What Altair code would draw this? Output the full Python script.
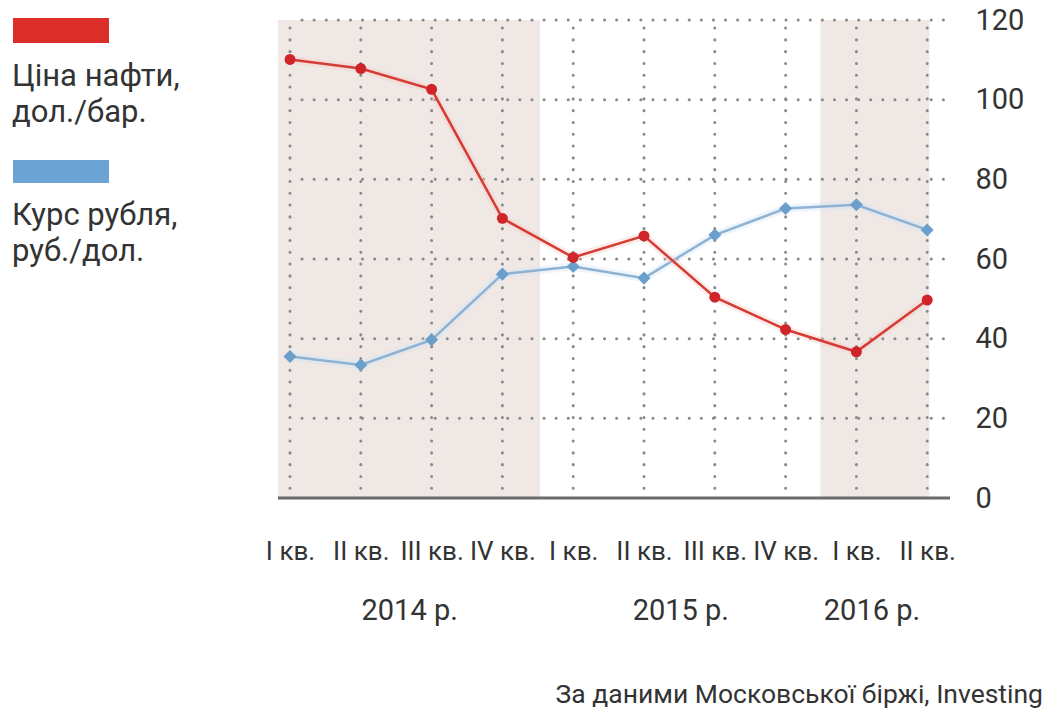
import altair as alt
import pandas as pd

quarters = ["I кв.", "II кв.", "III кв.", "IV кв.", "I кв.", "II кв.", "III кв.", "IV кв.", "I кв.", "II кв."]
oil = [110.1, 107.8, 102.6, 70.2, 60.4, 65.8, 50.4, 42.3, 36.7, 49.7]
rub = [35.5, 33.4, 39.7, 56.2, 58.1, 55.2, 66.0, 72.7, 73.6, 67.3]
y_ticks = [0, 20, 40, 60, 80, 100, 120]
years = ["2014 р.", "2015 р.", "2016 р."]
year_pos = [1.69, 5.52, 8.22]
band_start = [-0.17, 7.49]
band_end = [3.53, 9.03]
oil_label = ["Ціна нафти,", "дол./бар."]
rub_label = ["Курс рубля,", "руб./дол."]
source_text = "За даними Московської біржі, Investing"

idx = list(range(len(quarters)))
df = pd.DataFrame({"i": idx, "q": quarters, "oil": oil, "rub": rub})
bands = pd.DataFrame({"s": band_start, "e": band_end})
ygrid = pd.DataFrame({"v": y_ticks[1:]})
xgrid = pd.DataFrame({"i": idx})
yrs = pd.DataFrame({"t": years, "p": year_pos})
one = pd.DataFrame({"a": [0]})

RED_LINE = "#d63b33"
RED_PT = "#cf2529"
BLUE_LINE = "#8db2d3"
BLUE_PT = "#6a9fcc"
BAND = "#efe8e5"
GRID = "#8a8a8a"
TXT = "#333333"
FONT = "Roboto"

xscale = alt.Scale(domain=[-0.1695, 9.322], nice=False, zero=False)
yscale = alt.Scale(domain=[0, 120], nice=False)
labexpr = "[" + ",".join("'" + q + "'" for q in quarters) + "][datum.value]"

xax = alt.Axis(values=idx, labelExpr=labexpr, grid=False, ticks=False, domain=False,
               labelPadding=61, labelBaseline="alphabetic", labelFont=FONT, labelFontSize=26,
               labelColor=TXT, labelFlush=False, labelOverlap=False, title="")
yax = alt.Axis(values=y_ticks, orient="right", grid=False, ticks=False, domain=False,
               labelPadding=25, labelBaseline="middle", labelAlign="left", labelFont=FONT,
               labelFontSize=29, labelColor=TXT, labelFlush=False, labelOverlap=False, title="")

def X(f):
    return alt.X(f, scale=xscale, axis=xax)

def Y(f):
    return alt.Y(f, scale=yscale, axis=yax)

band_layer = alt.Chart(bands).mark_rect(color=BAND).encode(
    x=X("s:Q"), x2="e:Q", y=alt.value(0), y2=alt.value(478))

hgrid = alt.Chart(ygrid).mark_rule(color=GRID, strokeWidth=3, strokeDash=[0.1, 12], strokeCap="round").encode(
    y=Y("v:Q"), x=alt.value(24), x2=alt.value(668))

vgrid = alt.Chart(xgrid).mark_rule(color=GRID, strokeWidth=3, strokeDash=[0.1, 11.7], strokeCap="round").encode(
    x=X("i:Q"), y=alt.value(8), y2=alt.value(478))

base_rule = alt.Chart(one).mark_rule(color="#6b6b6b", strokeWidth=3).encode(
    y=alt.datum(0, scale=yscale), x=alt.value(0), x2=alt.value(672))

def series(field, lc, pc, shape, size, halo):
    b = alt.Chart(df)
    h = b.mark_line(color=halo, strokeWidth=8, opacity=0.35).encode(x=X("i:Q"), y=Y(field + ":Q"))
    l = b.mark_line(color=lc, strokeWidth=2.5).encode(x=X("i:Q"), y=Y(field + ":Q"))
    p = b.mark_point(color=pc, filled=True, opacity=1, shape=shape, size=size).encode(
        x=X("i:Q"), y=Y(field + ":Q"))
    return [h, l, p]

year_layer = alt.Chart(yrs).mark_text(font=FONT, fontSize=29, color=TXT, baseline="alphabetic").encode(
    x=X("p:Q"), y=alt.value(600), text="t:N")

leg_red = alt.Chart(one).mark_rect(color="#dc2f2c").encode(
    x=alt.value(-265), x2=alt.value(-169), y=alt.value(-2), y2=alt.value(23))
leg_blue = alt.Chart(one).mark_rect(color="#6aa3d4").encode(
    x=alt.value(-265), x2=alt.value(-169), y=alt.value(140), y2=alt.value(163))
leg_red_t = alt.Chart(one).mark_text(text=oil_label, font=FONT, fontSize=31, color=TXT, align="left",
                                     baseline="alphabetic", lineHeight=36).encode(
    x=alt.value(-266), y=alt.value(66))
leg_blue_t = alt.Chart(one).mark_text(text=rub_label, font=FONT, fontSize=31, color=TXT, align="left",
                                      baseline="alphabetic", lineHeight=36).encode(
    x=alt.value(-266), y=alt.value(205))
src = alt.Chart(one).mark_text(text=source_text, font=FONT, fontSize=26.5, color=TXT, align="right",
                               baseline="alphabetic").encode(
    x=alt.value(765), y=alt.value(683))

layers = [band_layer, hgrid, vgrid, base_rule]
layers += series("rub", BLUE_LINE, BLUE_PT, "diamond", 170, "#cfe3f3")
layers += series("oil", RED_LINE, RED_PT, "circle", 120, "#f6c9c4")
layers += [year_layer, leg_red, leg_blue, leg_red_t, leg_blue_t, src]

chart = alt.layer(*layers).properties(
    width=672, height=478,
    padding={"left": 270, "top": 12, "right": 95, "bottom": 212},
    autosize=alt.AutoSizeParams(type="none"),
).configure_view(stroke=None)

chart.save("out.html", embed_options={"renderer": "svg", "actions": False})
